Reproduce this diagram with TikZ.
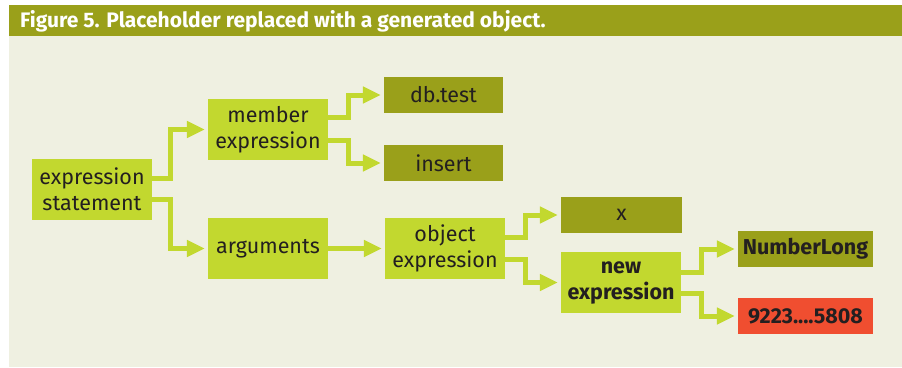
\documentclass[tikz,border=0pt]{standalone}
\usepackage{fontspec}
\setmainfont{Fira Sans}
\usetikzlibrary{arrows.meta}
\definecolor{bgc}{HTML}{EFF0E1}
\definecolor{olive}{HTML}{9AA01A}
\definecolor{lime}{HTML}{C2D82F}
\definecolor{redc}{HTML}{F04E30}
\definecolor{txt}{HTML}{231F20}
\tikzset{
  box/.style={rectangle, inner sep=0pt, align=center, text=txt,
    font=\fontsize{21.5}{26}\selectfont},
  boldtext/.style={font=\bfseries\fontsize{21.5}{26}\selectfont},
  lbox/.style={box, fill=lime, minimum width=120pt, minimum height=61pt},
  obox/.style={box, fill=olive, minimum width=119pt, minimum height=36pt},
  conn/.style={draw=lime, line width=5pt,
    -{Triangle[length=18pt,width=16pt]}, shorten >=3pt},
}
\begin{document}
\begin{tikzpicture}[x=1pt,y=-1pt]
\useasboundingbox[fill=white] (0,0) rectangle (902,367);
\fill[bgc] (9,5) rectangle (902,367);
\fill[olive] (9,5) rectangle (902,36);
\node[anchor=base west, text=white, inner sep=0pt,
  font=\bfseries\fontsize{21}{21}\selectfont] (title) at (20,27.5)
  {Figure 5. Placeholder replaced with a generated object.};

\node[lbox] (es) at (92,189.5) {expression\\statement};
\node[lbox] (me) at (268,129.5) {member\\expression};
\node[lbox] (ar) at (268,248.5) {arguments};
\node[obox, minimum width=119pt] (db) at (443.5,95) {db.test};
\node[obox, minimum width=119pt] (in) at (443.5,163) {insert};
\node[lbox] (ob) at (445,248.5) {object\\expression};
\node[obox, minimum width=121pt] (x) at (621.5,215) {x};
\node[lbox, boldtext] (ne) at (621,282.5) {new\\expression};
\node[obox, boldtext, minimum width=135pt] (nl) at (805.5,249) {NumberLong};
\node[obox, boldtext, fill=redc, minimum width=135pt] (nv) at (805.5,316) {9223....5808};

\draw[conn] ([yshift=11pt]es.east) -- ++(18,0) |- (me.west);
\draw[conn] ([yshift=-10pt]es.east) -- ++(18,0) |- (ar.west);
\draw[conn] ([yshift=12pt]me.east) -- ++(20,0) |- (db.west);
\draw[conn] ([yshift=-11pt]me.east) -- ++(20,0) |- (in.west);
\draw[conn] (ar.east) -- (ob.west);
\draw[conn] ([yshift=11pt]ob.east) -- ++(20,0) |- (x.west);
\draw[conn] ([yshift=-11pt]ob.east) -- ++(20,0) |- (ne.west);
\draw[conn] ([yshift=10pt]ne.east) -- ++(20,0) |- (nl.west);
\draw[conn] ([yshift=-11pt]ne.east) -- ++(20,0) |- (nv.west);
\end{tikzpicture}
\end{document}
